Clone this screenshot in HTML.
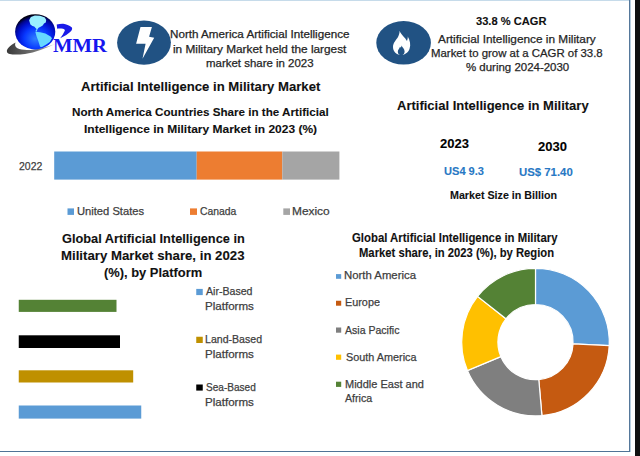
<!DOCTYPE html>
<html><head><meta charset="utf-8"><style>
html,body{margin:0;padding:0;}
body{width:640px;height:456px;position:relative;overflow:hidden;background:#fff;font-family:"Liberation Sans",sans-serif;}
.t{position:absolute;white-space:nowrap;line-height:1;transform-origin:0 0;font-weight:normal;-webkit-text-stroke:0.25px currentColor;}
.b{-webkit-text-stroke:0.1px currentColor;}
.b{font-weight:bold;}
.r{position:absolute;}
</style></head><body>
<div class="r" style="left:0;top:0;width:630px;height:1px;background:#c6dbea"></div>
<div class="r" style="left:629px;top:0;width:1px;height:452px;background:#55789b"></div>
<div class="r" style="left:630px;top:0;width:1px;height:452px;background:#b9cfe0"></div>
<div class="r" style="left:0;top:451px;width:630px;height:1px;background:#4f7396"></div>
<div class="r" style="left:635px;top:0;width:5px;height:456px;background:#111"></div>
<svg class="r" style="left:0;top:0" width="640" height="456" viewBox="0 0 640 456">
<defs>
<radialGradient id="gl" cx="0.55" cy="0.68" r="0.66" fx="0.5" fy="0.7">
<stop offset="0" stop-color="#3080ff"/><stop offset="0.45" stop-color="#0838ff"/><stop offset="0.7" stop-color="#0012d0"/><stop offset="0.86" stop-color="#000690"/><stop offset="1" stop-color="#000010"/>
</radialGradient>
<linearGradient id="sw" x1="0" y1="0" x2="1" y2="0">
<stop offset="0" stop-color="#3a3a3a"/><stop offset="0.6" stop-color="#777"/><stop offset="1" stop-color="#bbb"/>
</linearGradient>
</defs>
<!-- swoosh -->
<path d="M15.5,42.6 C11,45 6,49 7,52 C8,55 16,55 25,54 C35,52.5 46,48.5 56,43.5 C46,47.5 36,50 27,50 C19,50 13.5,48 15.5,42.6 Z" fill="url(#sw)"/>
<ellipse cx="35.2" cy="31.8" rx="20.1" ry="17.6" fill="url(#gl)"/>
<path d="M29.1,20.3 L30.9,17 L34.8,15.6 L40.1,15.8 L44.8,17.6 L46.2,20 L45.8,22.5 L44,23.5 L42.7,25.6 L40.6,26.8 L38.6,27.8 L37.2,29.4 L35.8,28.2 L34.2,26.6 L32.4,26 L30.4,24.4 Z" fill="#9aeeff"/>
<path d="M36.5,29 L37.5,29.6 L36.5,31.8 L35.5,31 Z" fill="#70dcff"/>
<path d="M35.3,31.8 L40.1,32.2 L45.4,33.5 L50.6,36.6 L52,38.3 L49.8,41.9 L46.2,44.5 L41.9,47.1 L40.1,46.7 L38.3,41 L36.6,36.6 Z" fill="#66d8ff"/>
<path d="M56.7,24.6 C59,23.9 61,23.6 63.3,23.7 C66,24.3 69.4,24.9 71.9,27.6 C72.8,29.8 71,32 66.3,35 L60.2,38.3 C62,36 63.5,33.5 64.8,30.8 C65.2,29.4 64,28.8 61.3,28.5 C59.5,28.3 58,28.5 57.2,28.8 Z" fill="#1a1ae8"/>
<!-- bolt circle -->
<ellipse cx="144" cy="42.6" rx="26.9" ry="22.1" fill="#215283"/>
<path d="M140.5,27 L151.9,27 L149.1,36.8 L154.2,37.8 L142.5,58.8 L145.6,43.8 L136.1,43.8 Z" fill="#fff"/>
<!-- flame circle -->
<ellipse cx="403.6" cy="42.8" rx="27.3" ry="21.8" fill="#215283"/>
<path d="M399.6,30.7 C401,35 405,37 407,41 C408,38 408,37 407.5,36 C410,40 411,45 409.5,49 C408,53 404,55 401,55 C396,55 393,51 393,47 C393,43 396,40 398,37 C399,35 399.6,33 399.6,30.7 Z" fill="#fff"/>
<path d="M401.5,45.5 C402.5,47.5 404.6,49 404.6,51.5 C404.6,53.8 403.2,55.2 401.2,55.2 C399.2,55.2 397.8,53.8 397.8,51.8 C397.8,49.8 399.5,48.5 400,46.8 C400.6,47.8 401.2,48.2 401.5,45.5 Z" fill="#215283"/>
<!-- bar chart -->
<rect x="54.2" y="151.5" width="142.5" height="28.1" fill="#5b9bd5"/>
<rect x="196.7" y="151.5" width="85.6" height="28.1" fill="#ed7d31"/>
<rect x="282.3" y="151.5" width="57.1" height="28.1" fill="#a5a5a5"/>
<rect x="67.5" y="208.4" width="6.5" height="6.5" fill="#5b9bd5"/>
<rect x="190" y="208.4" width="7" height="6.5" fill="#ed7d31"/>
<rect x="283.3" y="208.4" width="6.7" height="6.5" fill="#a5a5a5"/>
<!-- platform bars -->
<rect x="18.75" y="299.8" width="97.75" height="12.1" fill="#548235"/>
<rect x="18.75" y="335.3" width="101.25" height="12.7" fill="#000"/>
<rect x="18.75" y="370.3" width="114.45" height="12.2" fill="#bf9000"/>
<rect x="18.75" y="405.5" width="122.5" height="13.1" fill="#5b9bd5"/>
<rect x="196.25" y="288.9" width="6.5" height="6.2" fill="#5b9bd5"/>
<rect x="196.25" y="336.75" width="6.5" height="6.25" fill="#bf9000"/>
<rect x="196.25" y="384.5" width="6.5" height="6.1" fill="#000"/>
<!-- donut -->
<path d="M535.50,268.30 A73.8,73.8 0 0 1 609.22,345.58 L573.06,343.87 A37.6,37.6 0 0 0 535.50,304.50 Z" fill="#5b9bd5" stroke="#fff" stroke-width="1.2" stroke-linejoin="miter"/>
<path d="M609.22,345.58 A73.8,73.8 0 0 1 541.93,415.62 L538.78,379.56 A37.6,37.6 0 0 0 573.06,343.87 Z" fill="#c55a11" stroke="#fff" stroke-width="1.2" stroke-linejoin="miter"/>
<path d="M541.93,415.62 A73.8,73.8 0 0 1 467.42,370.58 L500.81,356.61 A37.6,37.6 0 0 0 538.78,379.56 Z" fill="#7f7f7f" stroke="#fff" stroke-width="1.2" stroke-linejoin="miter"/>
<path d="M467.42,370.58 A73.8,73.8 0 0 1 477.58,296.36 L505.99,318.80 A37.6,37.6 0 0 0 500.81,356.61 Z" fill="#ffc000" stroke="#fff" stroke-width="1.2" stroke-linejoin="miter"/>
<path d="M477.58,296.36 A73.8,73.8 0 0 1 535.50,268.30 L535.50,304.50 A37.6,37.6 0 0 0 505.99,318.80 Z" fill="#548235" stroke="#fff" stroke-width="1.2" stroke-linejoin="miter"/>
<rect x="336" y="274.1" width="5.2" height="4.7" fill="#5b9bd5"/>
<rect x="336" y="300.75" width="5.2" height="4.95" fill="#c55a11"/>
<rect x="336" y="327.5" width="5.2" height="5.2" fill="#7f7f7f"/>
<rect x="336" y="354.6" width="5.2" height="5.2" fill="#ffc000"/>
<rect x="336" y="381.7" width="5.2" height="5.2" fill="#548235"/>
</svg>
<div class="t b" style="left:52.7px;top:37px;font-family:'Liberation Serif',serif;font-size:18.5px;color:#1616ee;-webkit-text-stroke:0px;transform:scaleX(1.12)">MMR</div>
<div class="t" style="left:170.14px;top:30.10px;font-size:10.47px;color:#262626;transform:scaleX(1.1134)">North America Artificial Intelligence</div>
<div class="t" style="left:172.80px;top:44.50px;font-size:10.47px;color:#262626;transform:scaleX(1.1286)">in Military Market held the largest</div>
<div class="t" style="left:205.90px;top:59.30px;font-size:10.47px;color:#262626;transform:scaleX(1.0939)">market share in 2023</div>
<div class="t b" style="left:476.10px;top:16.40px;font-size:10.75px;color:#111;transform:scaleX(1.0338)">33.8 % CAGR</div>
<div class="t" style="left:438.00px;top:33.60px;font-size:11.17px;color:#262626;transform:scaleX(1.0604)">Artificial Intelligence in Military</div>
<div class="t" style="left:431.28px;top:47.80px;font-size:11.17px;color:#262626;transform:scaleX(1.0216)">Market to grow at a CAGR of 33.8</div>
<div class="t" style="left:466.10px;top:62.40px;font-size:11.17px;color:#262626;transform:scaleX(1.0270)">% during 2024-2030</div>
<div class="t b" style="left:81.40px;top:79.60px;font-size:13.69px;color:#111;transform:scaleX(0.9592)">Artificial Intelligence in Military Market</div>
<div class="t b" style="left:71.99px;top:107.30px;font-size:11.59px;color:#111;transform:scaleX(1.0059)">North America Countries Share in the Artificial</div>
<div class="t b" style="left:83.77px;top:124.30px;font-size:11.59px;color:#111;transform:scaleX(1.0348)">Intelligence in Military Market in 2023 (%)</div>
<div class="t" style="left:19.30px;top:160.00px;font-size:11.73px;color:#404040;transform:scaleX(0.8923)">2022</div>
<div class="t" style="left:76.50px;top:206.30px;font-size:11.17px;color:#404040;transform:scaleX(1.0015)">United States</div>
<div class="t" style="left:200.00px;top:206.30px;font-size:11.17px;color:#404040;transform:scaleX(0.9295)">Canada</div>
<div class="t" style="left:291.93px;top:206.30px;font-size:11.17px;color:#404040;transform:scaleX(1.0662)">Mexico</div>
<div class="t b" style="left:397.20px;top:99.30px;font-size:13.27px;color:#111;transform:scaleX(0.9810)">Artificial Intelligence in Military</div>
<div class="t b" style="left:440.00px;top:138.25px;font-size:12.22px;color:#000;transform:scaleX(1.0648)">2023</div>
<div class="t b" style="left:538.25px;top:140.50px;font-size:12.22px;color:#000;transform:scaleX(1.0648)">2030</div>
<div class="t b" style="left:444.20px;top:166.40px;font-size:11.03px;color:#2878c4;transform:scaleX(1.0050)">US4 9.3</div>
<div class="t b" style="left:518.90px;top:166.60px;font-size:11.03px;color:#2878c4;transform:scaleX(1.0327)">US$ 71.40</div>
<div class="t b" style="left:449.79px;top:189.75px;font-size:11.17px;color:#111;transform:scaleX(0.9591)">Market Size in Billion</div>
<div class="t b" style="left:61.90px;top:232.00px;font-size:13.13px;color:#111;transform:scaleX(0.9738)">Global Artificial Intelligence in</div>
<div class="t b" style="left:60.89px;top:249.20px;font-size:13.13px;color:#111;transform:scaleX(1.0061)">Military Market share, in 2023</div>
<div class="t b" style="left:104.02px;top:266.40px;font-size:13.13px;color:#111;transform:scaleX(0.9821)">(%), by Platform</div>
<div class="t" style="left:206.00px;top:286.10px;font-size:11.17px;color:#404040;transform:scaleX(0.9490)">Air-Based</div>
<div class="t" style="left:204.96px;top:300.50px;font-size:11.17px;color:#404040;transform:scaleX(1.0380)">Platforms</div>
<div class="t" style="left:205.05px;top:334.00px;font-size:11.17px;color:#404040;transform:scaleX(0.9475)">Land-Based</div>
<div class="t" style="left:204.96px;top:348.60px;font-size:11.17px;color:#404040;transform:scaleX(1.0380)">Platforms</div>
<div class="t" style="left:206.00px;top:382.00px;font-size:11.17px;color:#404040;transform:scaleX(0.9018)">Sea-Based</div>
<div class="t" style="left:204.96px;top:396.60px;font-size:11.17px;color:#404040;transform:scaleX(1.0380)">Platforms</div>
<div class="t b" style="left:352.40px;top:233.00px;font-size:11.87px;color:#111;transform:scaleX(0.9584)">Global Artificial Intelligence in Military</div>
<div class="t b" style="left:358.55px;top:247.90px;font-size:11.87px;color:#111;transform:scaleX(0.9485)">Market share, in 2023 (%), by Region</div>
<div class="t" style="left:344.48px;top:270.10px;font-size:11.17px;color:#404040;transform:scaleX(1.0186)">North America</div>
<div class="t" style="left:344.53px;top:297.25px;font-size:11.17px;color:#404040;transform:scaleX(0.9714)">Europe</div>
<div class="t" style="left:345.00px;top:324.75px;font-size:11.17px;color:#404040;transform:scaleX(0.9448)">Asia Pacific</div>
<div class="t" style="left:345.50px;top:351.80px;font-size:11.17px;color:#404040;transform:scaleX(0.9726)">South America</div>
<div class="t" style="left:345.31px;top:378.90px;font-size:11.17px;color:#404040;transform:scaleX(0.9861)">Middle East and</div>
<div class="t" style="left:344.80px;top:393.00px;font-size:11.17px;color:#404040;transform:scaleX(0.9552)">Africa</div>
</body></html>
